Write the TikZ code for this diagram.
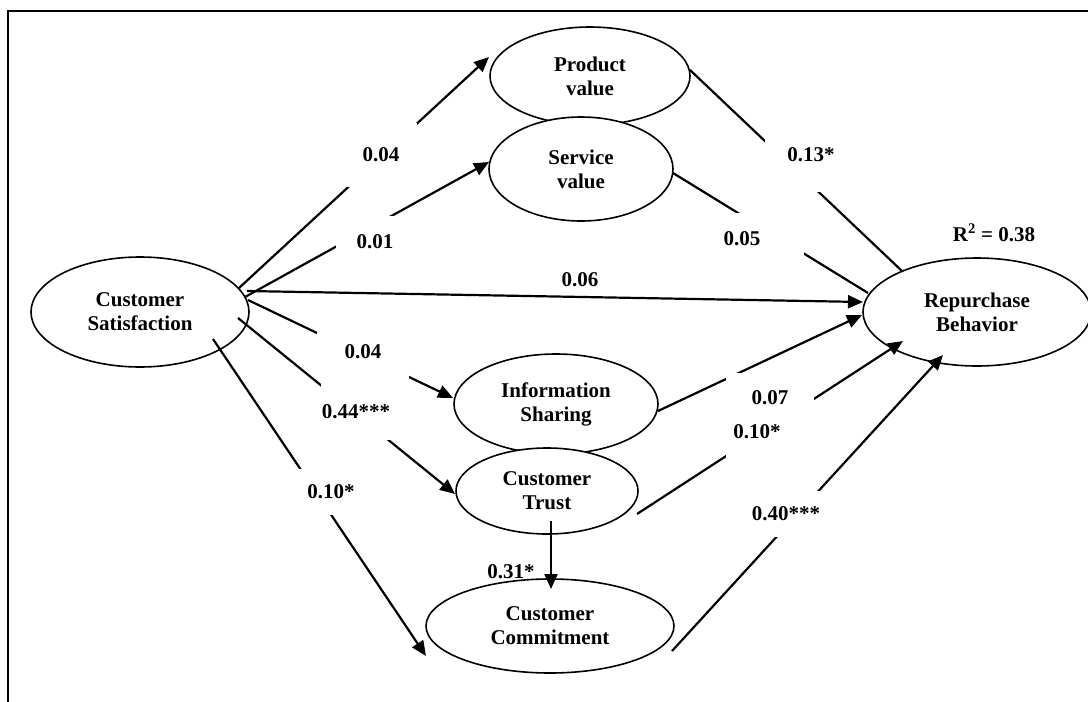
\documentclass[tikz,border=0pt]{standalone}
\usepackage{fontspec}
\setmainfont{Liberation Serif}
\usetikzlibrary{shapes.geometric,arrows.meta,calc}
\tikzset{
  latent/.style={ellipse, draw=black, line width=1.6pt, fill=white, align=center,
    font=\fontsize{21}{24}\selectfont\bfseries, inner sep=0pt},
  coef/.style={font=\fontsize{21}{24}\selectfont\bfseries, inner sep=0pt},
  coefbox/.style={coef, fill=white},
  parr/.style={-{Triangle[length=15pt,width=13pt]}, line width=2.2pt},
  pline/.style={line width=2.2pt},
}
\begin{document}
\begin{tikzpicture}[x=1pt,y=-1pt]
  \useasboundingbox (0,0) rectangle (1088,702);
  \clip (0,0) rectangle (1088,702);
  \draw[line width=1.7pt] (8,11) rectangle (1100,720);
  % constructs
  \node[latent, minimum width=218pt, minimum height=110pt] (cs) at (140,312) {Customer\\Satisfaction};
  \node[latent, minimum width=200pt, minimum height=98pt] (pv) at (590,76) {Product\\value};
  \node[latent, minimum width=184pt, minimum height=104pt] (sv) at (581,169) {Service\\value};
  \node[latent, minimum width=228pt, minimum height=108pt] (rb) at (977,312) {Repurchase\\Behavior};
  \node[latent, minimum width=204pt, minimum height=100pt] (infs) at (556,404) {Information\\Sharing};
  \node[latent, minimum width=182pt, minimum height=86pt] (trust) at (547,491) {Customer\\Trust};
  \node[latent, minimum width=248pt, minimum height=94pt] (commit) at (550,626) {Customer\\Commitment};
  % paths
  \draw[parr] ($(cs)+(99,-24)$) -- ($(pv)+(-101,-19)$);
  \draw[parr] ($(cs)+(105,-15)$) -- ($(sv)+(-92,-7)$);
  \draw[parr] ($(cs)+(107,-21)$) -- ($(rb)+(-114,-10)$);
  \draw[parr] ($(cs)+(108,-12)$) -- ($(infs)+(-103,-6)$);
  \draw[parr] ($(cs)+(98,6)$) -- ($(trust)+(-92,3)$);
  \draw[parr] ($(cs)+(73,27)$) -- ($(commit)+(-124,30)$);
  \draw[parr] ($(trust)+(4,30)$) -- ($(commit)+(1,-37)$);
  \draw[parr] ($(infs)+(102,7)$) -- ($(rb)+(-115,3)$);
  \draw[parr] ($(trust)+(90,23)$) -- ($(rb)+(-74,29)$);
  \draw[parr] ($(commit)+(122,25)$) -- ($(rb)+(-34,43)$);
  \draw[pline] ($(pv)+(100,-6)$) -- ($(rb)+(-75,-41)$);
  \draw[pline] ($(sv)+(92,4)$) -- ($(rb)+(-109,-19)$);
  % coefficients
  \node[coefbox, minimum width=72pt, minimum height=64pt] (b1) at (381,155) {0.04};
  \node[coefbox, minimum width=78pt, minimum height=52pt] (b2) at (375,242) {0.01};
  \node[coef] (b3) at (580,280) {0.06};
  \node[coefbox, minimum width=92pt, minimum height=54pt] (b4) at (363,352) {0.04};
  \node[coefbox, minimum width=70pt, minimum height=56pt] (b5) at (356,412) {0.44***};
  \node[coefbox, minimum width=64pt, minimum height=46pt] (b6) at (331,492) {0.10*};
  \node[coef] (b7) at (511,572) {0.31*};
  \node[coefbox, minimum width=62pt, minimum height=52pt] (b9) at (757,432) {0.10*};
  \node[coefbox, minimum width=88pt, minimum height=50pt] (b8) at (770,398) {0.07};
  \node[coefbox, minimum width=74pt, minimum height=46pt] (b10) at (786,514) {0.40***};
  \node[coefbox, minimum width=92pt, minimum height=74pt] (b11) at (811,155) {0.13*};
  \node[coefbox, minimum width=124pt, minimum height=52pt] (b12) at (742,239) {0.05};
  \node[coef] (r2) at (994,233) {R\textsuperscript{2} = 0.38};
\end{tikzpicture}
\end{document}
